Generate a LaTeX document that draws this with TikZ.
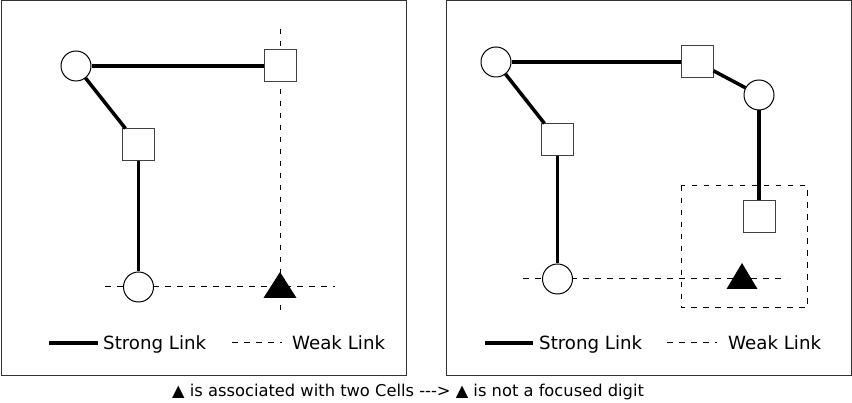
\documentclass[tikz,border=0pt]{standalone}
\usepackage{fontspec}
\setmainfont{DejaVu Sans}
\begin{document}
\begin{tikzpicture}[x=1pt,y=-1pt,
  frame/.style={draw=black!80,line width=1pt},
  strong/.style={line width=3.5pt},
  weak/.style={line width=1pt,dash pattern=on 5.5pt off 6.5pt},
  cellsq/.style={draw=black!75,fill=white,line width=1pt,minimum size=32pt,inner sep=0pt},
  cellci/.style={circle,draw=black,fill=white,line width=1pt,minimum size=30pt,inner sep=0pt},
  txt/.style={font=\fontsize{18.2pt}{20pt}\selectfont,inner sep=0pt,anchor=base west},
  captxt/.style={font=\fontsize{16.3pt}{18pt}\selectfont,inner sep=0pt,anchor=base west}]
\useasboundingbox (0,0) rectangle (852,403);
% frames
\draw[frame] (1,1) rectangle (406,376);
\draw[frame] (446,1) rectangle (851,376);
% ---------- left panel ----------
\coordinate (lvt) at (280,29);
\coordinate (lvb) at (280,313);
\coordinate (lhl) at (105,287);
\coordinate (lhr) at (335,287);
\draw[weak] (lvt) -- (lvb);
\draw[weak] (lhl) -- (lhr);
\node[cellci] (A) at (76,66) {};
\node[cellsq] (B) at (280,66) {};
\node[cellsq] (C) at (138.5,145) {};
\node[cellci] (D) at (138.5,287) {};
\fill (280,272) -- (296.5,298) -- (263.5,298) -- cycle;
\draw[strong] (A) -- (B);
\draw[strong] (A) -- (C);
\draw[strong] (C) -- (D);
% legend left
\coordinate (ls1) at (49,343); \coordinate (ls2) at (98,343);
\draw[strong] (ls1) -- (ls2);
\node[txt] (lst) at (103,349.5) {Strong Link};
\coordinate (lw1) at (232,343); \coordinate (lw2) at (282,343);
\draw[weak] (lw1) -- (lw2);
\node[txt] (lwt) at (292,349.5) {Weak Link};
% ---------- right panel ----------
\coordinate (rhl) at (523,279);
\coordinate (rhr) at (787,279);
\draw[weak] (rhl) -- (rhr);
\draw[weak] (681,186) rectangle (807,308);
\node[cellci] (A2) at (496,62) {};
\node[cellsq] (B2) at (697,62) {};
\node[cellci] (E2) at (759,95) {};
\node[cellsq] (C2) at (557.5,140) {};
\node[cellci] (D2) at (557.5,279) {};
\node[cellsq] (F2) at (759,217) {};
\fill (742,263) -- (757.5,289) -- (726.5,289) -- cycle;
\draw[strong] (A2) -- (B2);
\draw[strong] (B2) -- (E2);
\draw[strong] (E2) -- (F2);
\draw[strong] (A2) -- (C2);
\draw[strong] (C2) -- (D2);
% legend right
\coordinate (rs1) at (485,343); \coordinate (rs2) at (533,343);
\draw[strong] (rs1) -- (rs2);
\node[txt] (rst) at (539,349.5) {Strong Link};
\coordinate (rw1) at (667,343); \coordinate (rw2) at (717,343);
\draw[weak] (rw1) -- (rw2);
\node[txt] (rwt) at (728,349.5) {Weak Link};
% caption
\node[captxt] (cap) at (172,396) {▲ is associated with two Cells -{}-{}-> ▲ is not a focused digit};
\end{tikzpicture}
\end{document}
